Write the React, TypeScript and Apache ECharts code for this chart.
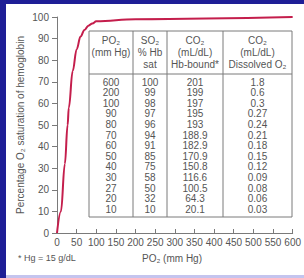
import React, { useEffect, useRef } from "react";
import * as echarts from "echarts";

const po2 = [600, 200, 100, 90, 80, 70, 60, 50, 40, 30, 27, 20, 10];
const so2 = [100, 99, 98, 97, 96, 94, 91, 85, 75, 58, 50, 32, 10];
const hbBound = ["201", "199", "197", "195", "193", "188.9", "182.9", "170.9", "150.8", "116.6", "100.5", "64.3", "20.1"];
const dissolved = ["1.8", "0.6", "0.3", "0.27", "0.24", "0.21", "0.18", "0.15", "0.12", "0.09", "0.08", "0.06", "0.03"];
const headers = [
  ["PO₂", "(mm Hg)"],
  ["SO₂", "% Hb", "sat"],
  ["CO₂", "(mL/dL)", "Hb-bound*"],
  ["CO₂", "(mL/dL)", "Dissolved O₂"],
];
const xAxisName = "PO₂ (mm Hg)";
const yAxisName = "Percentage O₂ saturation of hemoglobin";
const footnote = "* Hg = 15 g/dL";

const FONT = "'Liberation Sans', Arial, sans-serif";
const TXT = "#555";
const LINE = "#7a7a7a";

export default function App() {
  const ref = useRef<HTMLDivElement>(null);
  useEffect(() => {
    if (!ref.current) return;
    const chart = echarts.init(ref.current, null, { renderer: "svg" });

    const curve: [number, number][] = [[0, 0]];
    for (let i = po2.length - 1; i >= 0; i--) curve.push([po2[i], so2[i]]);

    // table layout
    const tL = 89, tR = 292, tT = 31, tB = 217, hB = 74;
    const cols = [tL, 133, 167, 223, tR];
    const rowY0 = 82, rowStep = 10.6;
    const headerY = [40, 52, 64];
    const columns = [po2.map(String), so2.map(String), hbBound, dissolved];

    const tableEls: any[] = [];
    tableEls.push({
      type: "rect",
      shape: { x: tL, y: tT, width: tR - tL, height: tB - tT },
      style: { fill: "#fff", stroke: LINE, lineWidth: 1 },
      z: 5,
    });
    tableEls.push({
      type: "line",
      shape: { x1: tL, y1: hB, x2: tR, y2: hB },
      style: { stroke: LINE, lineWidth: 1 },
      z: 6,
    });
    for (let c = 1; c < cols.length - 1; c++) {
      tableEls.push({
        type: "line",
        shape: { x1: cols[c], y1: tT, x2: cols[c], y2: tB },
        style: { stroke: LINE, lineWidth: 1 },
        z: 6,
      });
    }
    headers.forEach((h, c) => {
      const cx = (cols[c] + cols[c + 1]) / 2;
      h.forEach((t, r) => {
        tableEls.push({
          type: "text",
          x: cx,
          y: headerY[r],
          style: { text: t, fill: TXT, font: `10px ${FONT}`, align: "center", verticalAlign: "middle" },
          z: 7,
        });
      });
    });
    columns.forEach((col, c) => {
      const cx = (cols[c] + cols[c + 1]) / 2;
      col.forEach((t, r) => {
        tableEls.push({
          type: "text",
          x: cx,
          y: rowY0 + r * rowStep,
          style: { text: t, fill: TXT, font: `10px ${FONT}`, align: "center", verticalAlign: "middle" },
          z: 7,
        });
      });
    });

    chart.setOption({
      animation: false,
      backgroundColor: "#1e1e96",
      grid: { left: 57, right: 11, top: 17, bottom: 45 },
      graphic: [
        { type: "rect", shape: { x: 6, y: 4, width: 298, height: 271 }, style: { fill: "#ffffff" }, z: -100, silent: true },
        { type: "rect", shape: { x: 6, y: 275, width: 298, height: 3 }, style: { fill: "#c4c4ee" }, z: -100, silent: true },
        {
          type: "text",
          x: 20,
          y: 125,
          rotation: Math.PI / 2,
          style: { text: yAxisName, fill: TXT, font: `10px ${FONT}`, align: "center", verticalAlign: "middle" },
        },
        {
          type: "text",
          x: 172,
          y: 258,
          style: { text: xAxisName, fill: TXT, font: `10px ${FONT}`, align: "center", verticalAlign: "middle" },
        },
        {
          type: "text",
          x: 18,
          y: 258,
          style: { text: footnote, fill: TXT, font: `9px ${FONT}`, align: "left", verticalAlign: "middle" },
        },
        ...tableEls,
      ],
      xAxis: {
        type: "value",
        min: 0,
        max: 600,
        interval: 50,
        axisLine: { show: true, lineStyle: { color: LINE, width: 1 } },
        axisTick: { show: true, inside: true, length: 4, lineStyle: { color: LINE } },
        splitLine: { show: false },
        axisLabel: { color: TXT, fontSize: 10, fontFamily: FONT, margin: 4, interval: 0, hideOverlap: false },
      },
      yAxis: {
        type: "value",
        min: 0,
        max: 100,
        interval: 10,
        axisLine: { show: true, lineStyle: { color: LINE, width: 1 } },
        axisTick: { show: true, inside: false, length: 5, lineStyle: { color: LINE } },
        splitLine: { show: false },
        axisLabel: { color: TXT, fontSize: 10, fontFamily: FONT, margin: 8 },
      },
      series: [
        {
          type: "line",
          data: curve,
          smooth: 0.4,
          smoothMonotone: "x",
          showSymbol: false,
          lineStyle: { color: "#c41e4c", width: 2 },
          z: 3,
        },
      ],
    });
    return () => chart.dispose();
  }, []);
  return <div ref={ref} style={{ position: "fixed", left: 0, top: 0, width: 304, height: 278 }} />;
}
